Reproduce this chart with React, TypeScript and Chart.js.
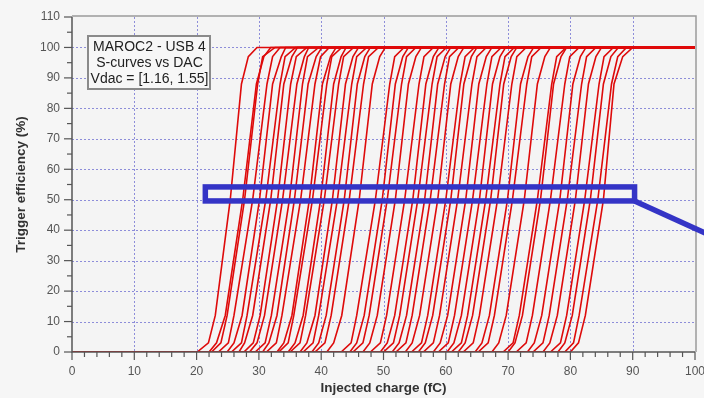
import { useEffect, useRef } from 'react';
import { Chart, registerables } from 'chart.js';

Chart.register(...registerables);

// Efficiency levels (%) at which each S-curve's charge (fC) is read
const LEVELS = [0, 3, 12, 50, 88, 97, 100];

// Injected charge (fC) at each level of LEVELS, one row per DAC setting
const CURVES: number[][] = [
  [20.1, 21.9, 23.0, 25.4, 27.2, 28.3, 29.7],
  [22.0, 23.2, 24.6, 27.4, 29.6, 30.8, 31.9],
  [22.4, 23.9, 24.9, 27.7, 29.8, 30.6, 32.6],
  [23.5, 25.1, 26.0, 29.0, 31.3, 32.2, 33.4],
  [24.9, 26.0, 27.3, 30.1, 32.2, 33.6, 34.3],
  [25.6, 27.2, 28.1, 31.1, 33.4, 34.2, 35.9],
  [26.8, 27.7, 29.0, 31.9, 34.0, 35.3, 36.2],
  [27.6, 29.1, 30.2, 33.0, 35.1, 36.0, 37.7],
  [28.5, 29.7, 30.9, 33.8, 36.1, 37.3, 38.0],
  [29.4, 31.0, 32.0, 34.9, 37.0, 37.8, 39.6],
  [30.6, 31.6, 32.9, 35.7, 37.9, 39.2, 40.1],
  [31.2, 32.8, 33.7, 36.7, 39.0, 39.9, 41.3],
  [32.9, 34.0, 35.3, 38.1, 40.2, 41.5, 42.4],
  [33.2, 34.7, 35.6, 38.6, 40.9, 41.7, 43.3],
  [34.7, 35.8, 37.1, 39.9, 42.0, 43.2, 44.0],
  [35.0, 36.6, 37.5, 40.5, 42.8, 43.6, 45.2],
  [36.6, 37.7, 39.0, 41.8, 43.9, 45.1, 46.0],
  [37.1, 38.7, 39.6, 42.6, 44.9, 45.7, 47.3],
  [38.5, 39.6, 40.8, 43.7, 45.8, 47.0, 47.9],
  [39.0, 40.6, 41.6, 44.5, 46.8, 47.6, 49.2],
  [40.9, 42.0, 43.3, 46.1, 48.2, 49.4, 50.3],
  [43.2, 44.8, 45.7, 48.7, 51.0, 51.8, 53.3],
  [44.6, 45.7, 46.9, 49.8, 51.9, 53.1, 54.0],
  [45.1, 46.7, 47.7, 50.6, 52.9, 53.7, 55.2],
  [46.7, 47.8, 49.0, 51.9, 54.0, 55.2, 56.1],
  [47.9, 49.5, 50.5, 53.4, 55.7, 56.5, 58.0],
  [49.5, 50.6, 51.8, 54.7, 56.8, 58.0, 58.9],
  [50.0, 51.6, 52.6, 55.5, 57.8, 58.6, 60.1],
  [51.4, 52.5, 53.7, 56.6, 58.7, 59.9, 60.8],
  [52.0, 53.6, 54.6, 57.5, 59.8, 60.6, 62.1],
  [53.5, 54.6, 55.8, 58.7, 60.8, 62.0, 62.9],
  [54.5, 56.1, 57.1, 60.0, 62.3, 63.1, 64.6],
  [55.6, 56.7, 57.9, 60.8, 62.9, 64.1, 65.0],
  [56.4, 58.0, 59.0, 61.9, 64.2, 65.0, 66.5],
  [58.0, 59.1, 60.3, 63.2, 65.3, 66.5, 67.4],
  [58.8, 60.4, 61.4, 64.3, 66.6, 67.4, 68.9],
  [60.2, 61.3, 62.5, 65.4, 67.5, 68.7, 69.6],
  [60.9, 62.5, 63.5, 66.4, 68.7, 69.5, 71.0],
  [62.0, 63.1, 64.3, 67.2, 69.3, 70.5, 71.4],
  [62.8, 64.4, 65.4, 68.3, 70.6, 71.4, 72.9],
  [64.7, 65.8, 67.0, 69.9, 72.0, 73.2, 74.1],
  [65.2, 66.8, 67.8, 70.7, 73.0, 73.8, 75.3],
  [67.4, 68.5, 69.7, 72.6, 74.7, 75.9, 76.8],
  [69.2, 70.8, 71.8, 74.7, 77.0, 77.8, 79.3],
  [70.0, 71.1, 72.3, 75.2, 77.3, 78.5, 79.4],
  [71.3, 72.9, 73.9, 76.8, 79.1, 79.9, 81.4],
  [73.1, 74.2, 75.4, 78.3, 80.4, 81.6, 82.5],
  [74.0, 75.6, 76.6, 79.5, 81.8, 82.6, 84.1],
  [75.6, 76.7, 77.9, 80.8, 82.9, 84.1, 85.0],
  [76.8, 78.4, 79.4, 82.3, 84.6, 85.4, 86.9],
  [78.0, 79.1, 80.3, 83.2, 85.3, 86.5, 87.7],
  [79.1, 80.5, 81.4, 84.4, 86.6, 87.6, 89.0],
  [80.0, 81.3, 82.4, 85.3, 87.0, 88.4, 90.0],
];

const X_RANGE = [0, 100];
const Y_RANGE = [0, 110];
const X_TICKS = [0, 10, 20, 30, 40, 50, 60, 70, 80, 90, 100];
const Y_TICKS = [0, 10, 20, 30, 40, 50, 60, 70, 80, 90, 100, 110];
const X_MINOR_STEP = 2;
const Y_MINOR_STEP = 5;

const LEGEND_LINES = ['MAROC2 - USB 4', 'S-curves vs DAC', 'Vdac = [1.16, 1.55]'];

// Highlight box (data units) and pointer end
const HIGHLIGHT = { x0: 21.4, x1: 90.3, y0: 49.6, y1: 54.2 };
const POINTER_END = { x: 102.6, y: 38.2 };

const FONT = '"Liberation Sans", Arial, sans-serif';

const decorPlugin = {
  id: 'decor',
  beforeDraw(chart: any) {
    const { ctx, chartArea: a, scales } = chart;
    const x = scales.x;
    const y = scales.y;
    ctx.save();
    ctx.fillStyle = '#f6f6f6';
    ctx.fillRect(0, 0, chart.width, chart.height);
    ctx.fillStyle = '#f4f4f4';
    ctx.fillRect(a.left, a.top, a.right - a.left, a.bottom - a.top);
    // dotted grid
    ctx.strokeStyle = 'rgba(135,135,215,0.95)';
    ctx.lineWidth = 1;
    ctx.setLineDash([2, 2]);
    for (const v of X_TICKS) {
      if (v === X_RANGE[0] || v === X_RANGE[1]) continue;
      const px = Math.round(x.getPixelForValue(v)) + 0.5;
      ctx.beginPath();
      ctx.moveTo(px, a.top);
      ctx.lineTo(px, a.bottom);
      ctx.stroke();
    }
    for (const v of Y_TICKS) {
      if (v === Y_RANGE[0] || v === Y_RANGE[1]) continue;
      const py = Math.round(y.getPixelForValue(v)) + 0.5;
      ctx.beginPath();
      ctx.moveTo(a.left, py);
      ctx.lineTo(a.right, py);
      ctx.stroke();
    }
    ctx.setLineDash([]);
    // frame top/right
    ctx.strokeStyle = '#9a9a9a';
    ctx.lineWidth = 1.5;
    ctx.beginPath();
    ctx.moveTo(a.left, a.top - 1);
    ctx.lineTo(a.right + 1, a.top - 1);
    ctx.lineTo(a.right + 1, a.bottom);
    ctx.stroke();
    ctx.restore();
  },
  afterDraw(chart: any) {
    const { ctx, chartArea: a, scales } = chart;
    const x = scales.x;
    const y = scales.y;
    ctx.save();
    // axes
    ctx.strokeStyle = '#555';
    ctx.lineWidth = 1.5;
    ctx.beginPath();
    ctx.moveTo(a.left, a.top);
    ctx.lineTo(a.left, a.bottom);
    ctx.lineTo(a.right, a.bottom);
    ctx.stroke();
    // tick marks
    ctx.lineWidth = 1.2;
    for (let v = X_RANGE[0]; v <= X_RANGE[1]; v += X_MINOR_STEP) {
      const px = x.getPixelForValue(v);
      const len = v % 10 === 0 ? 8 : 5;
      ctx.beginPath();
      ctx.moveTo(px, a.bottom);
      ctx.lineTo(px, a.bottom + len);
      ctx.stroke();
    }
    for (let v = Y_RANGE[0]; v <= Y_RANGE[1]; v += Y_MINOR_STEP) {
      const py = y.getPixelForValue(v);
      const len = v % 10 === 0 ? 8 : 5;
      ctx.beginPath();
      ctx.moveTo(a.left, py);
      ctx.lineTo(a.left - len, py);
      ctx.stroke();
    }
    // legend box
    const bx = a.left + 16;
    const by = a.top + 19;
    const bw = 122;
    const bh = 53;
    ctx.fillStyle = '#f7f7f7';
    ctx.fillRect(bx, by, bw, bh);
    ctx.strokeStyle = '#8a8a8a';
    ctx.lineWidth = 2;
    ctx.strokeRect(bx, by, bw, bh);
    ctx.fillStyle = '#222';
    ctx.font = `14px ${FONT}`;
    ctx.textAlign = 'center';
    ctx.textBaseline = 'middle';
    LEGEND_LINES.forEach((t, i) => {
      ctx.fillText(t, bx + bw / 2 + 0.5, by + 11 + i * 16.3);
    });
    // highlight annotation
    const hx0 = x.getPixelForValue(HIGHLIGHT.x0);
    const hx1 = x.getPixelForValue(HIGHLIGHT.x1);
    const hy0 = y.getPixelForValue(HIGHLIGHT.y0);
    const hy1 = y.getPixelForValue(HIGHLIGHT.y1);
    ctx.strokeStyle = '#3434c6';
    ctx.lineWidth = 5.5;
    ctx.lineJoin = 'miter';
    ctx.strokeRect(hx0, hy1, hx1 - hx0, hy0 - hy1);
    ctx.beginPath();
    ctx.moveTo(hx1, hy0);
    ctx.lineTo(x.getPixelForValue(POINTER_END.x), y.getPixelForValue(POINTER_END.y));
    ctx.stroke();
    ctx.restore();
  },
};

export default function App() {
  const ref = useRef<HTMLCanvasElement | null>(null);
  useEffect(() => {
    if (!ref.current) return;
    const datasets = CURVES.map((row) => ({
      data: [
        { x: X_RANGE[0], y: LEVELS[0] },
        ...row.map((xv, i) => ({ x: xv, y: LEVELS[i] })),
        { x: X_RANGE[1], y: LEVELS[LEVELS.length - 1] },
      ],
      borderColor: 'rgb(222,10,10)',
      borderWidth: 1.6,
      pointRadius: 0,
      fill: false,
      tension: 0,
    }));
    const chart = new Chart(ref.current, {
      type: 'line',
      data: { datasets },
      options: {
        animation: false,
        responsive: true,
        maintainAspectRatio: false,
        events: [],
        layout: { padding: { left: 0, top: 17, right: 9, bottom: 0 } },
        plugins: { legend: { display: false }, tooltip: { enabled: false } },
        scales: {
          x: {
            type: 'linear',
            min: X_RANGE[0],
            max: X_RANGE[1],
            afterBuildTicks: (s: any) => {
              s.ticks = X_TICKS.map((v) => ({ value: v }));
            },
            ticks: {
              color: '#555',
              font: { family: FONT, size: 12 },
              padding: 4,
              maxRotation: 0,
              autoSkip: false,
            },
            grid: { drawOnChartArea: false, drawTicks: true, tickLength: 8, tickColor: 'rgba(0,0,0,0)' },
            border: { display: false },
            title: {
              display: true,
              text: 'Injected charge (fC)',
              color: '#333',
              font: { family: FONT, size: 13.5, weight: 'bold' },
              padding: { top: 0, bottom: 2 },
            },
            afterFit: (s: any) => {
              s.height = 46;
              s.paddingLeft = 0;
              s.paddingRight = 0;
            },
          },
          y: {
            type: 'linear',
            min: Y_RANGE[0],
            max: Y_RANGE[1],
            afterBuildTicks: (s: any) => {
              s.ticks = Y_TICKS.map((v) => ({ value: v }));
            },
            ticks: {
              color: '#555',
              font: { family: FONT, size: 12 },
              padding: 4,
              autoSkip: false,
            },
            grid: { drawOnChartArea: false, drawTicks: true, tickLength: 8, tickColor: 'rgba(0,0,0,0)' },
            border: { display: false },
            title: {
              display: true,
              text: 'Trigger efficiency (%)',
              color: '#333',
              font: { family: FONT, size: 13.5, weight: 'bold' },
              padding: { top: 13, bottom: 0 },
            },
            afterFit: (s: any) => {
              s.width = 72;
              s.paddingTop = 0;
              s.paddingBottom = 0;
            },
          },
        },
      },
      plugins: [decorPlugin],
    } as any);
    return () => chart.destroy();
  }, []);
  return (
    <div style={{ position: 'absolute', left: 0, top: 0, width: 704, height: 398 }}>
      <canvas ref={ref} />
    </div>
  );
}
